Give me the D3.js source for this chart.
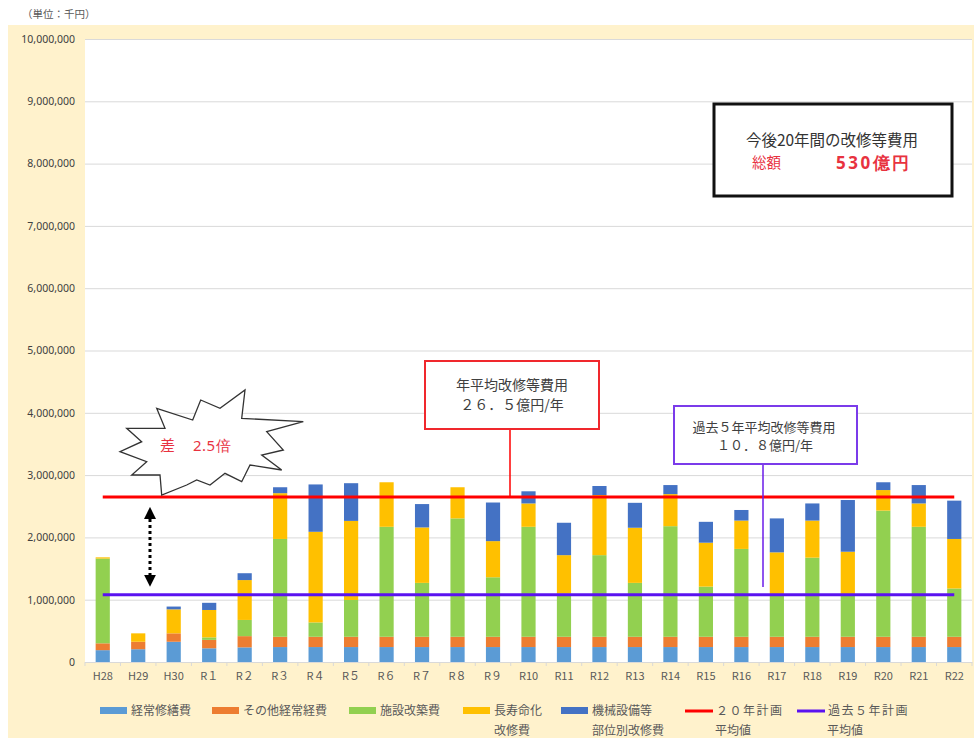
<!DOCTYPE html>
<html lang="ja">
<head>
<meta charset="utf-8">
<script src="https://cdn.jsdelivr.net/npm/d3@7"></script>
<style>
  html, body { margin: 0; padding: 0; background: #ffffff; }
  svg { display: block; font-family: "Noto Sans CJK JP", "Noto Sans", sans-serif; }
</style>
</head>
<body>
<svg id="chart" width="974" height="738"></svg>
<script>
// 年度
const categories = ["H28", "H29", "H30", "R１", "R２", "R３", "R４", "R５", "R６", "R７", "R８", "R９",
  "R10", "R11", "R12", "R13", "R14", "R15", "R16", "R17", "R18", "R19", "R20", "R21", "R22"];

// 費目別の費用（千円）
const keijoShuzen = [190000, 205000, 325000, 220000, 235000,
  240000, 240000, 240000, 240000, 240000, 240000, 240000, 240000, 240000, 240000,
  240000, 240000, 240000, 240000, 240000, 240000, 240000, 240000, 240000, 240000];
const sonotaKeihi = [110000, 120000, 135000, 135000, 180000,
  165000, 165000, 165000, 165000, 165000, 165000, 165000, 165000, 165000, 165000,
  165000, 165000, 165000, 165000, 165000, 165000, 165000, 165000, 165000, 165000];
const shisetsuKaichiku = [1360000, 0, 0, 40000, 260000,
  1570000, 230000, 590000, 1765000, 865000, 1900000, 955000, 1765000, 695000, 1310000,
  865000, 1775000, 805000, 1410000, 685000, 1270000, 685000, 2025000, 1765000, 775000];
const chojumyoka = [20000, 135000, 385000, 440000, 640000,
  735000, 1455000, 1270000, 715000, 890000, 500000, 580000, 375000, 615000, 965000,
  885000, 515000, 705000, 455000, 670000, 595000, 680000, 330000, 375000, 795000];
const kikaiSetsubi = [0, 0, 45000, 115000, 110000,
  95000, 760000, 605000, 0, 375000, 0, 620000, 195000, 520000, 145000,
  400000, 145000, 335000, 170000, 545000, 275000, 830000, 125000, 295000, 615000];

// 平均値（千円／年）
const avg20Years = 2650000;
const avgPast5Years = 1080000;

// 目盛
const yTickValues = [0, 1000000, 2000000, 3000000, 4000000, 5000000, 6000000, 7000000, 8000000, 9000000, 10000000];

const seriesKeys = ["keijo", "sonota", "shisetsu", "chojumyo", "kikai"];
const seriesColors = ["#5B9BD5", "#ED7D31", "#92D050", "#FFC000", "#4472C4"];
const seriesLegend = [["経常修繕費"], ["その他経常経費"], ["施設改築費"], ["長寿命化", "改修費"], ["機械設備等", "部位別改修費"]];
const lineLegend = [["２０年計画", "平均値"], ["過去５年計画", "平均値"]];
const lineColors = ["#FF0000", "#5A12F0"];

const rows = categories.map((c, i) => ({
  cat: c,
  keijo: keijoShuzen[i],
  sonota: sonotaKeihi[i],
  shisetsu: shisetsuKaichiku[i],
  chojumyo: chojumyoka[i],
  kikai: kikaiSetsubi[i]
}));

const svg = d3.select("#chart");
const W = 974, H = 738;
const plot = { left: 85, right: 972, top: 39, bottom: 662 };

// 背景
svg.append("rect").attr("x", 8).attr("y", 25).attr("width", W - 8).attr("height", H - 25).attr("fill", "#FFF2CC");
svg.append("rect").attr("x", plot.left).attr("y", plot.top)
  .attr("width", plot.right - plot.left).attr("height", plot.bottom - plot.top).attr("fill", "#ffffff");

svg.append("text").attr("x", 22).attr("y", 18).attr("font-size", 10.5).attr("fill", "#595959")
  .text("（単位：千円）");

const x = d3.scaleBand().domain(categories).range([plot.left, plot.right])
  .paddingInner(0.6).paddingOuter(0.3);
const y = d3.scaleLinear().domain([0, 10000000]).range([plot.bottom, plot.top]);

// 目盛線と縦軸
const yAxis = d3.axisLeft(y).tickValues(yTickValues).tickSize(plot.right - plot.left)
  .tickFormat(d3.format(","));
const gy = svg.append("g").attr("transform", `translate(${plot.right},0)`).call(yAxis);
gy.select(".domain").remove();
gy.selectAll(".tick line").attr("stroke", "#D9D9D9").attr("stroke-width", 1);
gy.selectAll(".tick text").attr("x", -(plot.right - plot.left) - 10)
  .attr("font-size", 10.5).attr("fill", "#404040").attr("font-family", "'Noto Sans', sans-serif");

// 横軸
const xAxis = d3.axisBottom(x).tickSize(0).tickPadding(10);
const gx = svg.append("g").attr("transform", `translate(0,${plot.bottom})`).call(xAxis);
gx.select(".domain").attr("stroke", "#D9D9D9");
gx.selectAll(".tick text").attr("font-size", 11).attr("fill", "#595959")
  .attr("font-family", "'Noto Sans CJK JP', sans-serif");
const step = x.step();
const boundaries = categories.map(c => x(c) - (step - x.bandwidth()) / 2).concat([plot.right]);
svg.append("g").selectAll("line").data(boundaries).join("line")
  .attr("x1", d => d).attr("x2", d => d)
  .attr("y1", plot.bottom).attr("y2", plot.bottom + 4)
  .attr("stroke", "#D9D9D9");

// 積み上げ棒
const stacked = d3.stack().keys(seriesKeys)(rows);
svg.append("g").selectAll("g").data(stacked).join("g")
  .attr("fill", (d, i) => seriesColors[i])
  .selectAll("rect").data(d => d).join("rect")
  .attr("x", d => x(d.data.cat))
  .attr("width", x.bandwidth())
  .attr("y", d => y(d[1]))
  .attr("height", d => y(d[0]) - y(d[1]));

// 平均値の線
const firstC = x(categories[0]) + x.bandwidth() / 2;
const lastC = x(categories[categories.length - 1]) + x.bandwidth() / 2;
[avg20Years, avgPast5Years].forEach((v, i) => {
  svg.append("line").attr("x1", firstC).attr("x2", lastC)
    .attr("y1", y(v)).attr("y2", y(v))
    .attr("stroke", lineColors[i]).attr("stroke-width", 3);
});

// 差を示す両矢印
const arrowX = 150;
const defs = svg.append("defs");
defs.append("marker").attr("id", "ah").attr("viewBox", "0 0 10 10")
  .attr("refX", 5).attr("refY", 5).attr("markerWidth", 4).attr("markerHeight", 4)
  .attr("orient", "auto-start-reverse").attr("markerUnits", "strokeWidth")
  .append("path").attr("d", "M0,0 L10,5 L0,10 Z").attr("fill", "#000");
svg.append("line").attr("x1", arrowX).attr("x2", arrowX)
  .attr("y1", y(avg20Years) + 16).attr("y2", y(avgPast5Years) - 14)
  .attr("stroke", "#000").attr("stroke-width", 3).attr("stroke-dasharray", "3,3")
  .attr("marker-start", "url(#ah)").attr("marker-end", "url(#ah)");

// 爆発形の吹き出し
const burst = [[156.7, 408.3], [192.7, 420], [200.7, 400], [220, 408.3], [245, 390], [241.7, 418.3],
  [303.3, 421.7], [266.7, 431.7], [283.3, 450], [261.7, 455], [281.7, 470], [250, 465],
  [241.7, 481.7], [225, 473.3], [210, 485], [196.7, 480], [186.7, 485], [161.7, 495],
  [160, 475], [131.7, 475], [146.7, 461.7], [120, 451.7], [141.7, 441.7], [126.7, 428.3], [165, 428.3]];
svg.append("path").attr("d", "M" + burst.map(p => p.join(",")).join("L") + "Z")
  .attr("fill", "#ffffff").attr("stroke", "#333").attr("stroke-width", 1.3).attr("stroke-linejoin", "miter");
svg.append("text").attr("x", 160).attr("y", 451).attr("font-size", 15).attr("fill", "#E8323F")
  .text("差");
svg.append("text").attr("x", 193).attr("y", 451).attr("font-size", 15).attr("fill", "#E8323F")
  .attr("font-family", "'Noto Sans', sans-serif").attr("letter-spacing", 0.5).text("2.5倍");

// 20年計画平均の説明
const redBox = { x: 425, y: 361, w: 174, h: 68 };
svg.append("line").attr("x1", 510).attr("x2", 510).attr("y1", redBox.y + redBox.h).attr("y2", y(avg20Years))
  .attr("stroke", "#FF0000").attr("stroke-width", 1.5);
svg.append("rect").attr("x", redBox.x).attr("y", redBox.y).attr("width", redBox.w).attr("height", redBox.h)
  .attr("fill", "#fff").attr("stroke", "#F0282D").attr("stroke-width", 2);
svg.append("text").attr("x", 512).attr("y", 390).attr("text-anchor", "middle").attr("font-size", 14)
  .attr("fill", "#404040").text("年平均改修等費用");
svg.append("text").attr("x", 512).attr("y", 410).attr("text-anchor", "middle").attr("font-size", 14)
  .attr("fill", "#404040").text("２６．５億円/年");

// 過去5年平均の説明
const purpleBox = { x: 674, y: 406, w: 183, h: 58 };
svg.append("line").attr("x1", 763).attr("x2", 763).attr("y1", purpleBox.y + purpleBox.h).attr("y2", 587)
  .attr("stroke", "#6A1BE8").attr("stroke-width", 1.5);
svg.append("rect").attr("x", purpleBox.x).attr("y", purpleBox.y).attr("width", purpleBox.w).attr("height", purpleBox.h)
  .attr("fill", "#fff").attr("stroke", "#7B3BEA").attr("stroke-width", 2);
svg.append("text").attr("x", 764).attr("y", 432).attr("text-anchor", "middle").attr("font-size", 13)
  .attr("fill", "#404040").text("過去５年平均改修等費用");
svg.append("text").attr("x", 765).attr("y", 450).attr("text-anchor", "middle").attr("font-size", 13)
  .attr("fill", "#404040").text("１０．８億円/年");

// 総額の表示
svg.append("rect").attr("x", 714).attr("y", 104).attr("width", 238).attr("height", 92)
  .attr("fill", "#fff").attr("stroke", "#111").attr("stroke-width", 3);
svg.append("text").attr("x", 832).attr("y", 146).attr("text-anchor", "middle").attr("font-size", 15.5)
  .attr("fill", "#333").text("今後20年間の改修等費用");
svg.append("text").attr("x", 752).attr("y", 168).attr("font-size", 14.5).attr("fill", "#E8323F").text("総額");
svg.append("text").attr("x", 836).attr("y", 169).attr("font-size", 17).attr("font-weight", 700)
  .attr("letter-spacing", 2.5).attr("fill", "#E8323F").attr("font-family", "'Noto Sans', sans-serif")
  .text("530億円");

// 凡例
const legendY = 710;
const rectItemsX = [100, 212, 349, 463, 561];
seriesLegend.forEach((lines, i) => {
  const lx = rectItemsX[i];
  svg.append("rect").attr("x", lx).attr("y", legendY - 3).attr("width", 27).attr("height", 7)
    .attr("fill", seriesColors[i]);
  lines.forEach((t, j) => {
    svg.append("text").attr("x", lx + 31).attr("y", legendY + 5 + j * 20).attr("font-size", 12)
      .attr("fill", "#595959").text(t);
  });
});
const lineItemsX = [685, 797];
lineLegend.forEach((lines, i) => {
  const lx = lineItemsX[i];
  svg.append("line").attr("x1", lx).attr("x2", lx + 28).attr("y1", legendY + 1).attr("y2", legendY + 1)
    .attr("stroke", lineColors[i]).attr("stroke-width", 3);
  svg.append("text").attr("x", lx + 31).attr("y", legendY + 5).attr("font-size", 12)
    .attr("fill", "#595959").attr("letter-spacing", 1.5).text(lines[0]);
  svg.append("text").attr("x", lx + 30).attr("y", legendY + 25).attr("font-size", 12)
    .attr("fill", "#595959").text(lines[1]);
});
</script>
</body>
</html>
